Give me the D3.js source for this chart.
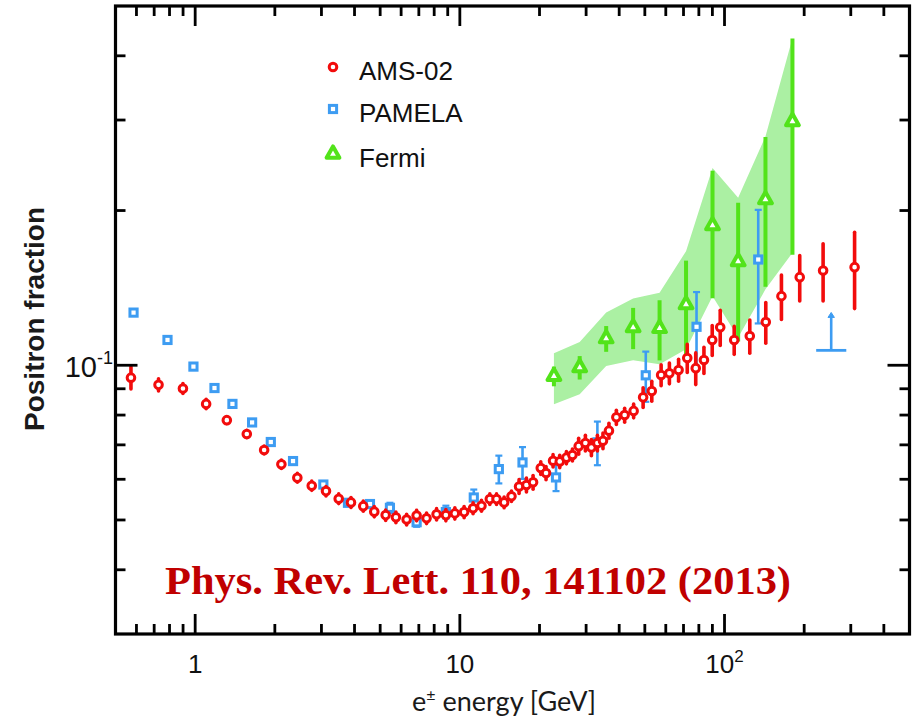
<!DOCTYPE html>
<html>
<head>
<meta charset="utf-8">
<script src="https://cdn.jsdelivr.net/npm/d3@7"></script>
<style>
  html, body { margin: 0; padding: 0; background: #fff; }
  svg { display: block; }
</style>
</head>
<body>
<svg id="chart" width="912" height="721"></svg>
<script>
// ---- AMS-02 positron fraction ----
const amsEnergy = [0.572, 0.727, 0.899, 1.10, 1.317, 1.567, 1.822, 2.117, 2.432, 2.757,
  3.121, 3.486, 3.879, 4.316, 4.75, 5.245, 5.734, 6.294, 6.866, 7.486,
  8.168, 8.856, 9.575, 10.38, 11.22, 12.07, 12.98, 13.76, 14.70, 15.67,
  16.74, 17.85, 18.91, 20.22, 21.17, 22.50, 23.85, 25.27, 26.63, 28.12,
  29.81, 31.41, 33.09, 34.74, 36.59, 39.03, 41.95, 45.36, 49.26, 53.12,
  57.61, 61.91, 67.07, 72.32, 77.86, 83.62, 89.87, 96.34, 108.8, 124.6,
  143.2, 164.1, 192.4, 235.8, 310.1];
const amsFraction = [0.0946, 0.0916, 0.0901, 0.0841, 0.0782, 0.0735, 0.0684, 0.0642, 0.0604, 0.0583,
  0.0569, 0.0550, 0.0541, 0.0532, 0.0519, 0.0511, 0.0506, 0.0501, 0.0510, 0.0504,
  0.0513, 0.0511, 0.0515, 0.0518, 0.0527, 0.0533, 0.0549, 0.0549, 0.0541, 0.0556,
  0.0581, 0.0585, 0.0592, 0.0631, 0.0617, 0.0652, 0.0650, 0.0661, 0.0669, 0.0696,
  0.0706, 0.0692, 0.0706, 0.0713, 0.0746, 0.0792, 0.0800, 0.0815, 0.0866, 0.0891,
  0.0957, 0.0965, 0.0979, 0.1033, 0.0987, 0.1024, 0.1120, 0.1186, 0.1120, 0.1140,
  0.1214, 0.1363, 0.1484, 0.1529, 0.1552];
const amsError = [0.0047, 0.0025, 0.0020, 0.0018, 0.0012, 0.0012, 0.0012, 0.0012, 0.0012, 0.0012,
  0.0012, 0.0012, 0.0012, 0.0012, 0.0012, 0.0012, 0.0012, 0.0012, 0.0012, 0.0012,
  0.0013, 0.0013, 0.0013, 0.0013, 0.0013, 0.0013, 0.0013, 0.0013, 0.0013, 0.0013,
  0.0018, 0.0018, 0.0018, 0.0018, 0.0018, 0.0018, 0.0018, 0.0018, 0.0018, 0.0025,
  0.0025, 0.0025, 0.0025, 0.0025, 0.0025, 0.0025, 0.0025, 0.0025, 0.0038, 0.0040,
  0.0045, 0.0045, 0.0048, 0.0065, 0.0070, 0.0060, 0.0075, 0.0093, 0.0070, 0.0085,
  0.0110, 0.0135, 0.0150, 0.0195, 0.0263];

// ---- PAMELA ----
const pamelaEnergy = [0.585, 0.786, 0.985, 1.183, 1.383, 1.641, 1.931, 2.343, 3.050, 3.779,
  4.575, 5.443, 6.866, 8.856, 11.29, 14.04, 17.25, 23.09, 33.09, 50.41, 78.4, 134.1];
const pamelaFraction = [0.1266, 0.1120, 0.0994, 0.0903, 0.0841, 0.0774, 0.0709, 0.0651, 0.0586, 0.0540,
  0.0537, 0.0528, 0.0495, 0.0518, 0.0553, 0.0628, 0.0647, 0.0605, 0.0708, 0.0956, 0.1188, 0.1606];
const pamelaError = [0, 0, 0, 0, 0, 0, 0, 0, 0, 0,
  0.0008, 0.0012, 0.0010, 0.0015, 0.0020, 0.0039, 0.0046, 0.0036, 0.0069, 0.0107, 0.0200, 0.0400];
// lower limit: energy bin [low, centre, high], fraction [limit, arrow tip]
const pamelaLimitEnergy = [222, 253, 288.5];
const pamelaLimitFraction = [0.1069, 0.1267];

// ---- Fermi ----
const fermiEnergy = [22.67, 28.37, 35.72, 45.16, 56.84, 71.56, 90.1, 112.6, 142.8, 180.6];
const fermiFraction = [0.0952, 0.0990, 0.1127, 0.1184, 0.1180, 0.1313, 0.1870, 0.1592, 0.2101, 0.2981];
const fermiError = [0.0042, 0.0052, 0.0065, 0.0109, 0.0158, 0.0285, 0.0520, 0.0480, 0.0680, 0.1340];
const fermiBandLow = [0.0840, 0.0878, 0.0997, 0.1023, 0.1004, 0.1074, 0.1363, 0.1132, 0.1405, 0.1655];
const fermiBandHigh = [0.1055, 0.1110, 0.1266, 0.1349, 0.1384, 0.1667, 0.2420, 0.2117, 0.2788, 0.4328];

// ---- axes ----
const xDomain = [0.5, 500];
const yDomain = [0.03, 0.5];
const xMajorTicks = [1, 10, 100];
const xTickBase = ["1", "10", "10"];
const xTickSup = ["", "", "2"];
const yMajorTicks = [0.1];
const yTickBase = ["10"];
const yTickSup = ["-1"];

const legendNames = ["AMS-02", "PAMELA", "Fermi"];
const citation = "Phys. Rev. Lett. 110, 141102 (2013)";

const RED = "#f20c0c", BLUE = "#3d9cf2", GREEN = "#52e31a", BAND = "#abf0a3";

const svg = d3.select("#chart");
const plotLeft = 115.5, plotRight = 909.5, plotTop = 6, plotBottom = 634;

const x = d3.scaleLog().domain(xDomain).range([plotLeft, plotRight]);
const y = d3.scaleLog().domain(yDomain).range([plotBottom, plotTop]);

const plot = svg.append("g");

// Fermi systematic band
const bandData = fermiEnergy.map((e, i) => ({ e, lo: fermiBandLow[i], hi: fermiBandHigh[i] }));
plot.append("path")
  .datum(bandData)
  .attr("fill", BAND)
  .attr("d", d3.area().x(d => x(d.e)).y0(d => y(d.lo)).y1(d => y(d.hi)));

// Fermi points
const fermi = fermiEnergy.map((e, i) => ({ e, f: fermiFraction[i], err: fermiError[i] }));
plot.append("g").selectAll("line").data(fermi).join("line")
  .attr("x1", d => x(d.e)).attr("x2", d => x(d.e))
  .attr("y1", d => y(d.f - d.err)).attr("y2", d => y(d.f + d.err))
  .attr("stroke", GREEN).attr("stroke-width", 4);
const tri = "M0,-7.6L6.4,3.8L-6.4,3.8Z";
plot.append("g").selectAll("path").data(fermi).join("path")
  .attr("transform", d => `translate(${x(d.e)},${y(d.f)})`)
  .attr("d", tri)
  .attr("fill", "#fff").attr("stroke", GREEN).attr("stroke-width", 4)
  .attr("stroke-linejoin", "round");

// PAMELA points
const pamela = pamelaEnergy.map((e, i) => ({ e, f: pamelaFraction[i], err: pamelaError[i] }));
const pamBars = plot.append("g").selectAll("g").data(pamela.filter(d => d.err > 0)).join("g");
pamBars.append("line")
  .attr("x1", d => x(d.e)).attr("x2", d => x(d.e))
  .attr("y1", d => y(d.f - d.err)).attr("y2", d => y(d.f + d.err))
  .attr("stroke", BLUE).attr("stroke-width", 2.6);
pamBars.selectAll(".cap").data(d => [d.f - d.err, d.f + d.err].map(v => ({ e: d.e, v }))).join("line")
  .attr("x1", d => x(d.e) - 3.5).attr("x2", d => x(d.e) + 3.5)
  .attr("y1", d => y(d.v)).attr("y2", d => y(d.v))
  .attr("stroke", BLUE).attr("stroke-width", 2.2);
plot.append("g").selectAll("rect").data(pamela).join("rect")
  .attr("x", d => x(d.e) - 3.6).attr("y", d => y(d.f) - 3.6)
  .attr("width", 7.2).attr("height", 7.2)
  .attr("fill", "#fff").attr("stroke", BLUE).attr("stroke-width", 3);

// PAMELA lower limit
const lim = plot.append("g").attr("stroke", BLUE).attr("fill", "none");
lim.append("line")
  .attr("x1", x(pamelaLimitEnergy[0])).attr("x2", x(pamelaLimitEnergy[2]))
  .attr("y1", y(pamelaLimitFraction[0])).attr("y2", y(pamelaLimitFraction[0]))
  .attr("stroke-width", 2.8);
lim.append("line")
  .attr("x1", x(pamelaLimitEnergy[1])).attr("x2", x(pamelaLimitEnergy[1]))
  .attr("y1", y(pamelaLimitFraction[0])).attr("y2", y(pamelaLimitFraction[1]) + 3)
  .attr("stroke-width", 2.6);
lim.append("path")
  .attr("d", `M${x(pamelaLimitEnergy[1]) - 3.2},${y(pamelaLimitFraction[1]) + 5}L${x(pamelaLimitEnergy[1])},${y(pamelaLimitFraction[1])}L${x(pamelaLimitEnergy[1]) + 3.2},${y(pamelaLimitFraction[1]) + 5}Z`)
  .attr("fill", BLUE).attr("stroke-width", 1);

// AMS-02 points
const ams = amsEnergy.map((e, i) => ({ e, f: amsFraction[i], err: amsError[i] }));
plot.append("g").selectAll("line").data(ams).join("line")
  .attr("x1", d => x(d.e)).attr("x2", d => x(d.e))
  .attr("y1", d => y(d.f - d.err)).attr("y2", d => y(d.f + d.err))
  .attr("stroke", RED).attr("stroke-width", 3.6).attr("stroke-linecap", "round");
plot.append("g").selectAll("circle").data(ams).join("circle")
  .attr("cx", d => x(d.e)).attr("cy", d => y(d.f)).attr("r", 3.8)
  .attr("fill", "#fff").attr("stroke", RED).attr("stroke-width", 3);

// ---- frame and ticks ----
const axes = svg.append("g").attr("stroke", "#000");
const xTicks = x.ticks().filter(v => v > xDomain[0] * 1.001 && v < xDomain[1] * 0.999);
const yTicks = y.ticks().filter(v => v > yDomain[0] * 1.001 && v < yDomain[1] * 0.999);
const isMajor = (v, list) => list.some(m => Math.abs(v / m - 1) < 1e-6);

xTicks.forEach(v => {
  const len = isMajor(v, xMajorTicks) ? 20 : 10;
  axes.append("line").attr("x1", x(v)).attr("x2", x(v)).attr("y1", plotBottom).attr("y2", plotBottom - len).attr("stroke-width", 2.8);
  axes.append("line").attr("x1", x(v)).attr("x2", x(v)).attr("y1", plotTop).attr("y2", plotTop + len).attr("stroke-width", 2.8);
});
yTicks.forEach(v => {
  const len = isMajor(v, yMajorTicks) ? 22 : 10;
  axes.append("line").attr("x1", plotLeft).attr("x2", plotLeft + len).attr("y1", y(v)).attr("y2", y(v)).attr("stroke-width", 2.8);
  axes.append("line").attr("x1", plotRight).attr("x2", plotRight - len).attr("y1", y(v)).attr("y2", y(v)).attr("stroke-width", 2.8);
});
axes.append("rect")
  .attr("x", plotLeft).attr("y", plotTop).attr("width", plotRight - plotLeft).attr("height", plotBottom - plotTop)
  .attr("fill", "none").attr("stroke-width", 3.2);

// tick labels
const lab = svg.append("g").attr("font-family", "'Liberation Sans', Arial, sans-serif").attr("fill", "#111");
xMajorTicks.forEach((v, i) => {
  const t = lab.append("text").attr("x", x(v)).attr("y", 673).attr("text-anchor", "middle").attr("font-size", 26);
  t.append("tspan").text(xTickBase[i]);
  if (xTickSup[i]) t.append("tspan").attr("dy", -11).attr("font-size", 17).text(xTickSup[i]);
});
yMajorTicks.forEach((v, i) => {
  const t = lab.append("text").attr("x", 113).attr("y", y(v) + 12).attr("text-anchor", "end").attr("font-size", 29);
  t.append("tspan").text(yTickBase[i]);
  t.append("tspan").attr("dy", -13).attr("font-size", 18).text(yTickSup[i]);
});

// axis titles
svg.append("text")
  .attr("transform", `translate(44,${319}) rotate(-90)`)
  .attr("text-anchor", "middle")
  .attr("font-family", "'Liberation Sans', Arial, sans-serif")
  .attr("font-weight", "bold").attr("font-size", 28).attr("fill", "#1a1a1a")
  .text("Positron fraction");
const xt = svg.append("text")
  .attr("x", 504).attr("y", 711).attr("text-anchor", "middle")
  .attr("font-family", "Lato, 'Open Sans', sans-serif").attr("font-size", 27).attr("fill", "#1a1a1a");
xt.append("tspan").text("e");
xt.append("tspan").attr("dy", -10).attr("font-size", 16).text("±");
xt.append("tspan").attr("dy", 10).text(" energy [GeV]");

// legend
const legendY = [67, 109, 154];
const leg = svg.append("g");
leg.append("circle").attr("cx", 333).attr("cy", legendY[0]).attr("r", 3.8)
  .attr("fill", "#fff").attr("stroke", RED).attr("stroke-width", 3);
leg.append("rect").attr("x", 333 - 3.6).attr("y", legendY[1] - 3.6).attr("width", 7.2).attr("height", 7.2)
  .attr("fill", "#fff").attr("stroke", BLUE).attr("stroke-width", 3);
leg.append("path").attr("transform", `translate(333,${legendY[2]})`).attr("d", tri)
  .attr("fill", "#fff").attr("stroke", GREEN).attr("stroke-width", 4).attr("stroke-linejoin", "round");
leg.selectAll("text").data(legendNames).join("text")
  .attr("x", 359).attr("y", (d, i) => legendY[i] + 13)
  .attr("font-family", "'Liberation Sans', Arial, sans-serif").attr("font-size", 26).attr("fill", "#111")
  .text(d => d);

// citation
svg.append("text")
  .attr("x", 165).attr("y", 594)
  .attr("font-family", "'Liberation Serif', 'Times New Roman', serif")
  .attr("font-weight", "bold").attr("font-size", 40).attr("fill", "#c00000")
  .attr("textLength", 626).attr("lengthAdjust", "spacingAndGlyphs")
  .text(citation);
</script>
</body>
</html>
